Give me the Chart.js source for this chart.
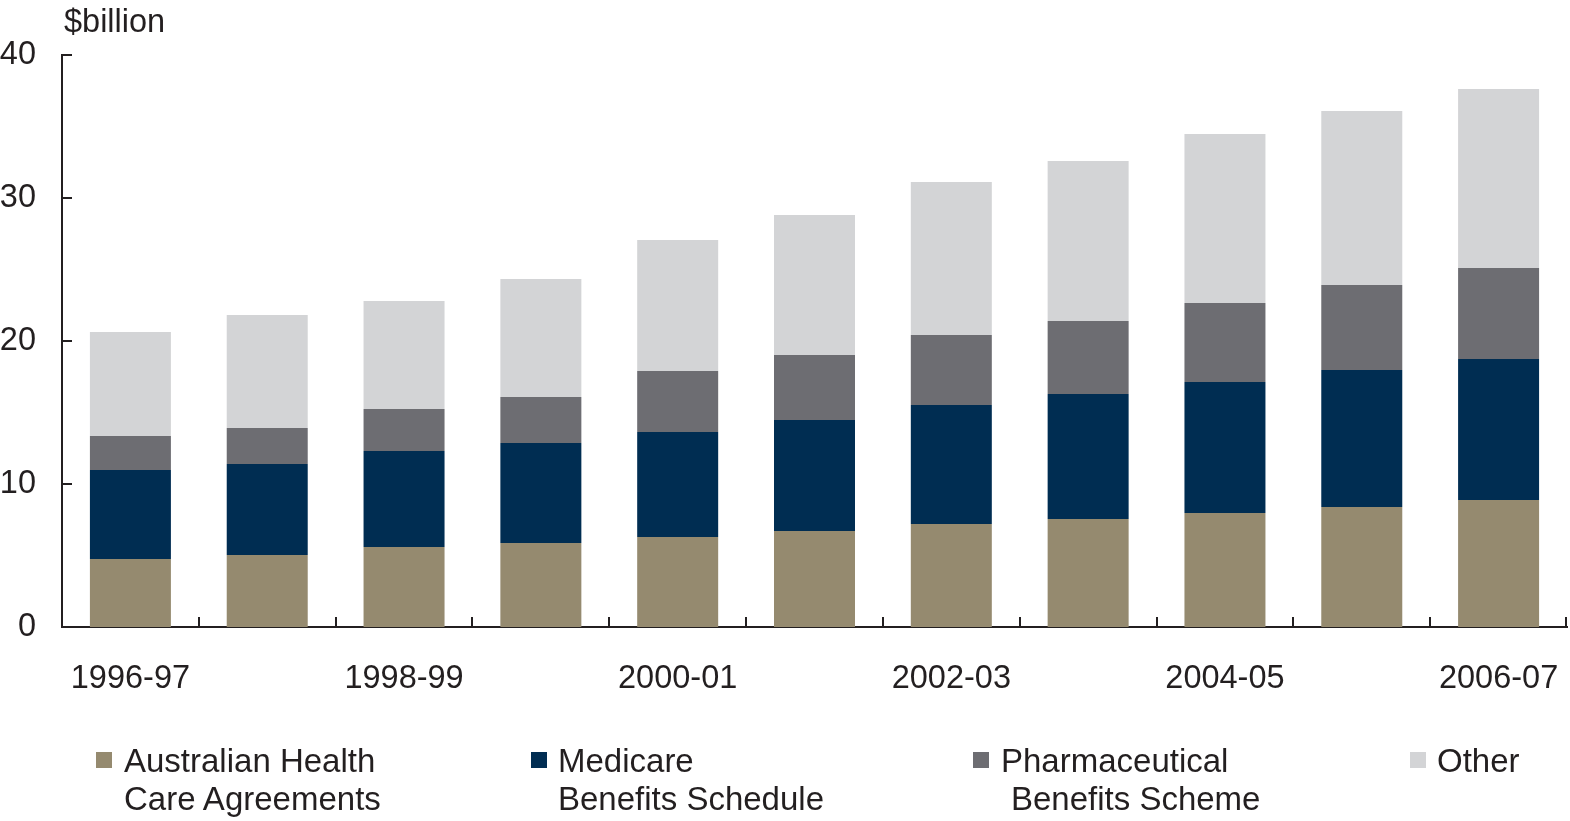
<!DOCTYPE html>
<html>
<head>
<meta charset="utf-8">
<script src="https://cdn.jsdelivr.net/npm/chart.js@4.4.1/dist/chart.umd.min.js"></script>
<style>
  html, body { margin: 0; padding: 0; background: #fff; }
  #wrap { position: relative; width: 1570px; height: 821px; font-family: "Liberation Sans", Arial, sans-serif; color: #231f20; }
  #chart { position: absolute; left: 0; top: 0; }
  .unit { position: absolute; left: 64px; top: 3px; font-size: 32.5px; }
  .legend-item { position: absolute; top: 742px; font-size: 33px; line-height: 38px; }
  .legend-item .box { position: absolute; top: 10px; width: 16px; height: 16px; }
</style>
</head>
<body>
<div id="wrap">
  <canvas id="chart" width="1570" height="821"></canvas>
  <div class="unit">$billion</div>
  <div id="legend"></div>
</div>
<script>
const years = ["1996-97", "1997-98", "1998-99", "1999-00", "2000-01", "2001-02",
  "2002-03", "2003-04", "2004-05", "2005-06", "2006-07"];
const healthCareAgreements = [4.76, 5.03, 5.59, 5.87, 6.29, 6.71, 7.20, 7.55, 7.97, 8.39, 8.88];
const medicareBenefits = [6.22, 6.37, 6.72, 7.00, 7.35, 7.77, 8.32, 8.74, 9.16, 9.58, 9.86];
const pharmaceuticalBenefits = [2.38, 2.52, 2.93, 3.21, 4.26, 4.54, 4.90, 5.11, 5.53, 5.95, 6.36];
const otherSpending = [7.27, 7.90, 7.56, 8.26, 9.16, 9.79, 10.70, 11.19, 11.82, 12.16, 12.52];
const yTicks = [0, 10, 20, 30, 40];

const legendItems = [
  { lines: ["Australian Health", "Care Agreements"], color: "#958a6f", box: 96, text: 124, indent: 0 },
  { lines: ["Medicare", "Benefits Schedule"], color: "#002d52", box: 531, text: 558, indent: 0 },
  { lines: ["Pharmaceutical", "Benefits Scheme"], color: "#6d6d72", box: 973, text: 1001, indent: 10 },
  { lines: ["Other"], color: "#d3d4d6", box: 1410, text: 1437, indent: 0 },
];

function buildLegend() {
  let legend = document.getElementById("legend");
  legendItems.forEach((item) => {
    let div = document.createElement("div");
    div.classList.add("legend-item");
    div.style.left = item.text + "px";
    let box = document.createElement("span");
    box.classList.add("box");
    box.style.left = item.box - item.text + "px";
    box.style.background = item.color;
    div.append(box);
    item.lines.forEach((line, i) => {
      let row = document.createElement("div");
      row.textContent = line;
      row.style.whiteSpace = "nowrap";
      if (i > 0) row.style.paddingLeft = item.indent + "px";
      div.append(row);
    });
    legend.append(div);
  });
}

// ticks pointing inward, as in the original
const innerTicks = {
  id: "innerTicks",
  afterDraw(chart) {
    let { ctx, scales, chartArea } = chart;
    ctx.save();
    ctx.strokeStyle = "#231f20";
    ctx.lineWidth = 2;
    yTicks.forEach((v) => {
      let y = Math.round(scales.y.getPixelForValue(v));
      ctx.beginPath();
      ctx.moveTo(chartArea.left, y);
      ctx.lineTo(chartArea.left + 10, y);
      ctx.stroke();
    });
    for (let i = 0; i < years.length; i++) {
      let x;
      if (i < years.length - 1) {
        x = (scales.x.getPixelForValue(i) + scales.x.getPixelForValue(i + 1)) / 2;
      } else {
        x = chartArea.right - 1;
      }
      x = Math.round(x);
      ctx.beginPath();
      ctx.moveTo(x, chartArea.bottom);
      ctx.lineTo(x, chartArea.bottom - 10);
      ctx.stroke();
    }
    ctx.restore();
  },
};

function makeDataset(label, data, color) {
  return {
    label: label,
    data: data,
    backgroundColor: color,
    borderWidth: 0,
    barPercentage: 0.592,
    categoryPercentage: 1,
  };
}

Chart.defaults.font.family = "'Liberation Sans', Arial, sans-serif";
Chart.defaults.color = "#231f20";

new Chart(document.getElementById("chart"), {
  type: "bar",
  data: {
    labels: years,
    datasets: [
      makeDataset("Australian Health Care Agreements", healthCareAgreements, "#958a6f"),
      makeDataset("Medicare Benefits Schedule", medicareBenefits, "#002d52"),
      makeDataset("Pharmaceutical Benefits Scheme", pharmaceuticalBenefits, "#6d6d72"),
      makeDataset("Other", otherSpending, "#d3d4d6"),
    ],
  },
  options: {
    responsive: false,
    animation: false,
    layout: { padding: { top: 55, right: 3, left: 0, bottom: 0 } },
    plugins: { legend: { display: false }, tooltip: { enabled: false } },
    scales: {
      x: {
        stacked: true,
        grid: { display: false, drawTicks: false },
        border: { display: true, color: "#231f20", width: 2 },
        ticks: {
          autoSkip: false,
          maxRotation: 0,
          padding: 33,
          font: { size: 32.5 },
          callback: (value, index) => (index % 2 === 0 ? years[index] : ""),
        },
        afterFit: (scale) => {
          scale.height = 194;
          scale.paddingLeft = 0;
          scale.paddingRight = 0;
        },
      },
      y: {
        stacked: true,
        min: 0,
        max: 40,
        grid: { display: false, drawTicks: false },
        border: { display: true, color: "#231f20", width: 2 },
        ticks: {
          stepSize: 10,
          padding: 26,
          font: { size: 32.5 },
        },
        afterFit: (scale) => { scale.width = 62; },
      },
    },
  },
  plugins: [innerTicks],
});

buildLegend();
</script>
</body>
</html>
